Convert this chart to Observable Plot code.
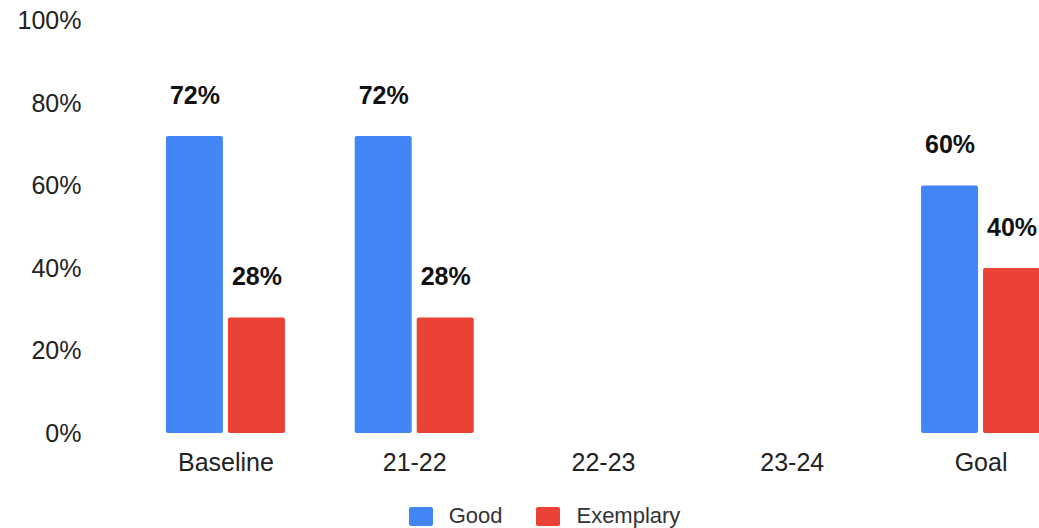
<!DOCTYPE html>
<html>
<head>
<meta charset="utf-8">
<script src="https://cdn.jsdelivr.net/npm/d3@7"></script>
<script src="https://cdn.jsdelivr.net/npm/@observablehq/plot@0.6"></script>
<style>
  html, body { margin: 0; padding: 0; background: #fff; }
  #chart { width: 1039px; }
  .legend { display: flex; justify-content: center; align-items: center; padding-left: 50px; height: 33px; box-sizing: border-box; padding-top: 9px;
    font-family: "Liberation Sans", Arial, sans-serif; font-size: 22px; color: #333; }
  .legend .item { display: flex; align-items: center; margin-right: 34px; }
  .legend .item:last-child { margin-right: 0; }
  .legend .sw { width: 24px; height: 19px; border-radius: 2px; margin-right: 16px; }
</style>
</head>
<body>
<div id="chart"></div>
<script>
const categories = ["Baseline", "21-22", "22-23", "23-24", "Goal"];
const series = ["Good", "Exemplary"];
const colors = ["#4285F4", "#EA4335"];
const good = [0.72, 0.72, null, null, 0.60];
const exemplary = [0.28, 0.28, null, null, 0.40];
const yTicks = [0, 0.2, 0.4, 0.6, 0.8, 1.0];

const rows = categories.flatMap((c, i) => [
  {cat: c, series: "Good", value: good[i]},
  {cat: c, series: "Exemplary", value: exemplary[i]}
]).filter(d => d.value != null);

const goodRows = rows.filter(d => d.series === "Good");
const exRows = rows.filter(d => d.series === "Exemplary");
const pct = d3.format(".0%");

const plot = Plot.plot({
  width: 1039,
  height: 495,
  marginLeft: 100,
  marginRight: 0,
  marginTop: 20.5,
  marginBottom: 62,
  style: {fontFamily: "'Liberation Sans', Arial, sans-serif", fontSize: "25px", color: "#222", background: "#fff"},
  x: {domain: categories, paddingInner: 0.698, paddingOuter: 0.336, align: 0.764, round: false, label: null, tickSize: 0, tickPadding: 20},
  y: {domain: [0, 1], ticks: yTicks, tickFormat: pct, label: null, tickSize: 0, tickPadding: 19},
  color: {domain: series, range: colors},
  marks: [
    Plot.barY(goodRows, {x: "cat", y: "value", fill: "series", dx: -31, rx: 2}),
    Plot.barY(exRows, {x: "cat", y: "value", fill: "series", dx: 31, rx: 2}),
    Plot.text(goodRows, {x: "cat", y: "value", text: d => pct(d.value), dx: -31, dy: -33, lineAnchor: "bottom", fontWeight: "bold", fontSize: 25, fill: "#111"}),
    Plot.text(exRows, {x: "cat", y: "value", text: d => pct(d.value), dx: 31, dy: -33, lineAnchor: "bottom", fontWeight: "bold", fontSize: 25, fill: "#111"})
  ]
});
document.getElementById("chart").appendChild(plot);

const legend = document.createElement("div");
legend.className = "legend";
series.forEach((s, i) => {
  const item = document.createElement("div");
  item.className = "item";
  const sw = document.createElement("span");
  sw.className = "sw";
  sw.style.background = colors[i];
  const label = document.createElement("span");
  label.textContent = s;
  item.appendChild(sw);
  item.appendChild(label);
  legend.appendChild(item);
});
document.getElementById("chart").appendChild(legend);
</script>
</body>
</html>
